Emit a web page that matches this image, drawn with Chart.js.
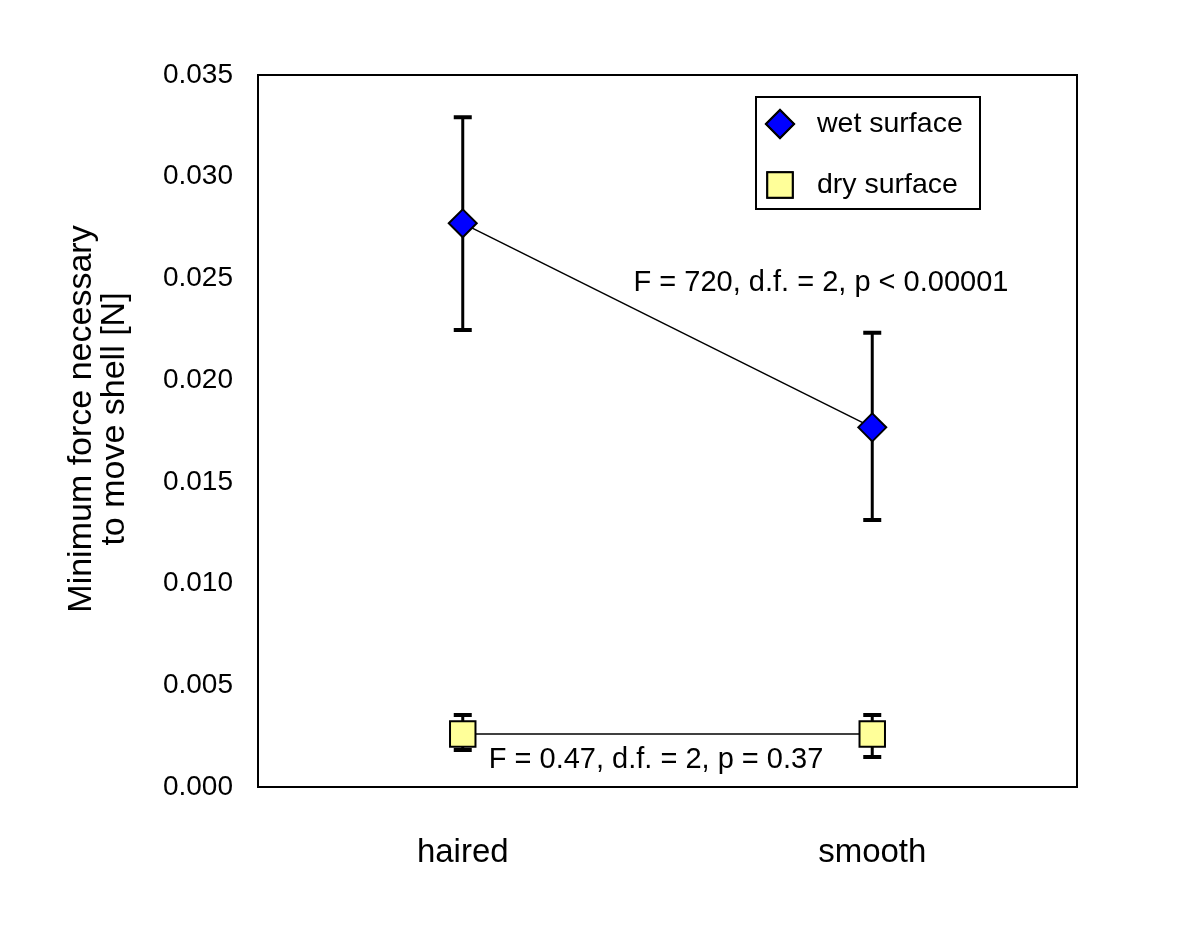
<!DOCTYPE html>
<html>
<head>
<meta charset="utf-8">
<script src="https://cdn.jsdelivr.net/npm/chart.js@4/dist/chart.umd.min.js"></script>
<style>
html,body{margin:0;padding:0;background:#fff;}
#wrap{width:1200px;height:926px;}
</style>
</head>
<body>
<div id="wrap"><canvas id="c" width="1200" height="926"></canvas></div>
<script>
const categories = ['haired', 'smooth'];
const seriesNames = ['wet surface', 'dry surface'];
const wetMean = [0.02771, 0.01768];
const wetLow  = [0.02246, 0.01313];
const wetHigh = [0.03292, 0.02233];
const dryMean = [0.00261, 0.00261];
const dryLow  = [0.00182, 0.00147];
const dryHigh = [0.00354, 0.00354];
const yTicks = [0, 0.005, 0.010, 0.015, 0.020, 0.025, 0.030, 0.035];
const yTitle = ['Minimum force necessary', 'to move shell [N]'];
const annotations = ['F = 720, d.f. = 2, p < 0.00001', 'F = 0.47, d.f. = 2, p = 0.37'];

const FONT = "'Liberation Sans', Arial, Helvetica, sans-serif";

const extras = {
  id: 'extras',
  beforeDatasetsDraw(chart) {
    const ctx = chart.ctx;
    const x = chart.scales.x, y = chart.scales.y;
    const sets = [[wetLow, wetHigh], [dryLow, dryHigh]];
    ctx.save();
    ctx.strokeStyle = '#000';
    sets.forEach(([lo, hi]) => {
      categories.forEach((c, i) => {
        const px = x.getPixelForValue(i);
        const yl = y.getPixelForValue(lo[i]);
        const yh = y.getPixelForValue(hi[i]);
        ctx.lineWidth = 3;
        ctx.beginPath();
        ctx.moveTo(px, yl); ctx.lineTo(px, yh);
        ctx.stroke();
        ctx.lineWidth = 4;
        ctx.beginPath();
        ctx.moveTo(px - 9, yl); ctx.lineTo(px + 9, yl);
        ctx.moveTo(px - 9, yh); ctx.lineTo(px + 9, yh);
        ctx.stroke();
      });
    });
    ctx.restore();
  },
  afterDraw(chart) {
    const ctx = chart.ctx;
    const a = chart.chartArea;
    ctx.save();
    // frame
    ctx.strokeStyle = '#000';
    ctx.lineWidth = 2;
    ctx.strokeRect(a.left, a.top, a.right - a.left, a.bottom - a.top);
    // y-axis title
    ctx.save();
    ctx.translate(a.left - 176, a.top + 344);
    ctx.rotate(-Math.PI / 2);
    ctx.fillStyle = '#000';
    ctx.font = '34px ' + FONT;
    ctx.textAlign = 'center';
    ctx.textBaseline = 'middle';
    yTitle.forEach((t, i) => ctx.fillText(t, 0, i * 33));
    ctx.restore();
    // annotations
    ctx.fillStyle = '#000';
    ctx.font = '29px ' + FONT;
    ctx.textAlign = 'center';
    ctx.textBaseline = 'middle';
    ctx.fillText(annotations[0], a.left + 563, a.top + 208);
    ctx.fillText(annotations[1], a.left + 398, a.top + 685);
    // legend
    const bx = a.left + 498, by = a.top + 22, bw = 224, bh = 112;
    ctx.fillStyle = '#fff';
    ctx.fillRect(bx, by, bw, bh);
    ctx.lineWidth = 2;
    ctx.strokeRect(bx, by, bw, bh);
    chart.data.datasets.forEach((ds, i) => {
      const cy = by + 27 + i * 61;
      const cx = bx + 24;
      Chart.helpers.drawPoint(ctx, {
        pointStyle: ds.pointStyle,
        radius: ds.pointRadius,
        borderWidth: ds.pointBorderWidth,
        rotation: 0
      }, cx, cy);
      ctx.fillStyle = ds.pointBackgroundColor;
      ctx.strokeStyle = ds.pointBorderColor;
      ctx.lineWidth = ds.pointBorderWidth;
      ctx.fill();
      ctx.stroke();
      ctx.fillStyle = '#000';
      ctx.font = '28.5px ' + FONT;
      ctx.textAlign = 'left';
      ctx.textBaseline = 'middle';
      ctx.fillText(ds.label, bx + 61, cy);
    });
    ctx.restore();
  }
};

new Chart(document.getElementById('c'), {
  type: 'line',
  data: {
    labels: categories,
    datasets: [
      {
        label: seriesNames[0],
        data: wetMean,
        borderColor: '#000',
        borderWidth: 1.5,
        pointStyle: 'rectRot',
        pointRadius: 14,
        pointHoverRadius: 14,
        pointBackgroundColor: '#0000ff',
        pointBorderColor: '#000',
        pointBorderWidth: 2,
        fill: false,
        tension: 0
      },
      {
        label: seriesNames[1],
        data: dryMean,
        borderColor: '#000',
        borderWidth: 1.5,
        pointStyle: 'rect',
        pointRadius: 18,
        pointHoverRadius: 18,
        pointBackgroundColor: '#ffff99',
        pointBorderColor: '#000',
        pointBorderWidth: 2,
        fill: false,
        tension: 0
      }
    ]
  },
  options: {
    responsive: false,
    animation: false,
    devicePixelRatio: 1,
    layout: { padding: { left: 0, top: 75, right: 123, bottom: 0 } },
    plugins: { legend: { display: false }, tooltip: { enabled: false } },
    scales: {
      x: {
        type: 'category',
        offset: true,
        grid: { display: false, drawTicks: false },
        border: { display: false },
        ticks: { color: '#000', font: { family: FONT, size: 33 }, padding: 46 },
        afterFit(s) { s.height = 139; }
      },
      y: {
        min: 0,
        max: 0.035,
        afterBuildTicks(s) { s.ticks = yTicks.map(v => ({ value: v })); },
        grid: { display: false, drawTicks: false },
        border: { display: false },
        ticks: {
          color: '#000',
          font: { family: FONT, size: 28 },
          padding: 25,
          callback: v => Number(v).toFixed(3)
        },
        afterFit(s) { s.width = 258; }
      }
    }
  },
  plugins: [extras]
});
</script>
</body>
</html>
